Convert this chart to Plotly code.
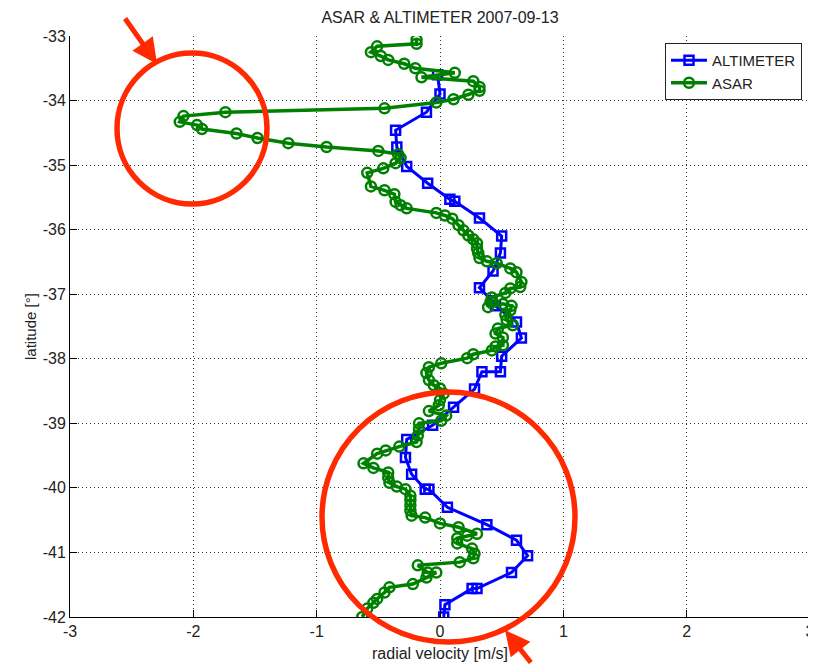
import plotly.graph_objects as go

# ---------------- data ----------------
alt_vel = [-0.02, 0.00, -0.11, -0.36, -0.35, -0.27, -0.10, 0.08, 0.12, 0.32,
           0.50, 0.49, 0.43, 0.32, 0.42, 0.45, 0.62, 0.66, 0.50, 0.49,
           0.34, 0.28, 0.11, -0.06, -0.27, -0.28, -0.23, -0.12, -0.09, 0.06,
           0.38, 0.62, 0.71, 0.58, 0.30, 0.26, 0.04, 0.03]
alt_lat = [-33.60, -33.90, -34.18, -34.46, -34.72, -35.02, -35.28, -35.53, -35.56, -35.82,
           -36.10, -36.36, -36.64, -36.90, -37.10, -37.18, -37.43, -37.68, -37.96, -38.20,
           -38.20, -38.47, -38.75, -39.03, -39.25, -39.53, -39.79, -40.02, -40.02, -40.30,
           -40.57, -40.81, -41.05, -41.31, -41.56, -41.56, -41.81, -42.00]

asar_vel = [-0.19, -0.19, -0.51, -0.56, -0.48, -0.42, -0.29, -0.20, 0.12, -0.15,
            0.27, 0.32, 0.32, 0.23, 0.11, -0.03, -0.45, -1.74, -2.08, -2.11,
            -1.97, -1.93, -1.65, -1.48, -1.23, -0.92, -0.50, -0.34, -0.32, -0.36,
            -0.46, -0.59, -0.56, -0.45, -0.37, -0.36, -0.32, -0.27, -0.03, 0.04,
            0.10, 0.15, 0.19, 0.23, 0.27, 0.30, 0.30, 0.31, 0.32, 0.38,
            0.46, 0.57, 0.62, 0.66, 0.65, 0.57, 0.53, 0.42, 0.41, 0.39,
            0.51, 0.58, 0.57, 0.53, 0.54, 0.59, 0.47, 0.45, 0.51, 0.51,
            0.45, 0.42, 0.27, 0.22, 0.01, -0.09, -0.11, -0.09, -0.05, 0.00,
            0.03, 0.00, -0.01, -0.09, 0.05, 0.01, -0.17, -0.17, -0.18, -0.19,
            -0.33, -0.44, -0.51, -0.62, -0.54, -0.42, -0.42, -0.41, -0.35, -0.28,
            -0.24, -0.24, -0.24, -0.24, -0.23, -0.12, 0.00, 0.15, 0.30, 0.22,
            0.14, 0.14, 0.26, 0.28, 0.27, 0.16, -0.18, -0.10, -0.03, -0.11,
            -0.22, -0.41, -0.45, -0.51, -0.54, -0.59, -0.63]
asar_lat = [-33.06, -33.12, -33.16, -33.25, -33.31, -33.37, -33.43, -33.50, -33.57, -33.64,
            -33.70, -33.79, -33.85, -33.91, -33.98, -34.03, -34.12, -34.18, -34.24, -34.33,
            -34.38, -34.44, -34.51, -34.58, -34.66, -34.72, -34.78, -34.83, -34.89, -34.97,
            -35.05, -35.12, -35.33, -35.39, -35.45, -35.57, -35.62, -35.67, -35.74, -35.78,
            -35.83, -35.93, -36.01, -36.09, -36.15, -36.21, -36.29, -36.36, -36.44, -36.49,
            -36.52, -36.60, -36.66, -36.81, -36.89, -36.91, -36.98, -37.05, -37.12, -37.20,
            -37.15, -37.18, -37.25, -37.32, -37.40, -37.48, -37.53, -37.61, -37.67, -37.79,
            -37.81, -37.87, -37.93, -37.99, -38.07, -38.13, -38.22, -38.33, -38.41, -38.46,
            -38.54, -38.64, -38.72, -38.81, -38.88, -38.96, -39.00, -39.09, -39.19, -39.29,
            -39.36, -39.42, -39.47, -39.62, -39.69, -39.76, -39.84, -39.92, -39.98, -40.02,
            -40.12, -40.19, -40.27, -40.35, -40.43, -40.46, -40.55, -40.61, -40.71, -40.74,
            -40.78, -40.86, -40.94, -41.02, -41.09, -41.15, -41.20, -41.31, -41.31, -41.39,
            -41.49, -41.54, -41.62, -41.72, -41.78, -41.87, -42.00]

x_ticks = [-3, -2, -1, 0, 1, 2, 3]
y_ticks = [-33, -34, -35, -36, -37, -38, -39, -40, -41, -42]

title_text = "ASAR & ALTIMETER 2007-09-13"
x_title = "radial velocity [m/s]"
y_title = "latitude [°]"

# ---------------- figure ----------------
# The page body has an 8px margin, so the figure is sized to fit the window.
OFF = 8
W, H = 816 - OFF, 664 - OFF
L, T = 70 - OFF, 36 - OFF
R = W - (810 - OFF)
B = H - (617 - OFF)
PW, PH = W - L - R, H - T - B

def px(xp):  # window pixel -> paper x
    return (xp - OFF - L) / PW

def py(yp):  # window pixel -> paper y
    return 1 - (yp - OFF - T) / PH

FONT = "Liberation Sans, Arial, sans-serif"
TXT = "#222222"
RED = "#ff2a00"

fig = go.Figure()
fig.add_trace(go.Scatter(
    x=alt_vel, y=alt_lat, name="ALTIMETER", mode="lines+markers",
    line=dict(color="#0000ff", width=3),
    marker=dict(symbol="square-open", size=9, color="#0000ff", line=dict(width=2.5)),
))
fig.add_trace(go.Scatter(
    x=asar_vel, y=asar_lat, name="ASAR", mode="lines+markers",
    line=dict(color="#008000", width=3.5),
    marker=dict(symbol="circle-open", size=10, color="#008000", line=dict(width=2.5)),
))

axis_common = dict(
    showgrid=True, gridcolor="#333333", griddash="1px,3px", gridwidth=1,
    zeroline=False, ticks="inside", ticklen=7, tickcolor="#000000",
    tickfont=dict(family=FONT, size=16, color=TXT),
    showline=True, linecolor="#000000", linewidth=1, mirror=False,
    automargin=False,
)

fig.update_layout(
    width=W, height=H,
    margin=dict(l=L, r=R, t=T, b=B, pad=0, autoexpand=False),
    paper_bgcolor="white", plot_bgcolor="white",
    font=dict(family=FONT, size=16, color=TXT),
    title=dict(text=title_text, x=0.5, xref="paper", xanchor="center",
               y=1 - (17 - OFF) / H, yref="container", yanchor="middle",
               font=dict(family=FONT, size=16, color=TXT)),
    xaxis=dict(range=[-3, 3], tickvals=x_ticks, ticktext=[str(v) for v in x_ticks],
               **axis_common),
    yaxis=dict(range=[-42, -33], tickvals=y_ticks, ticktext=[str(v) for v in y_ticks],
               **axis_common),
    legend=dict(x=px(802), y=py(43), xanchor="right", yanchor="top",
                bgcolor="white", bordercolor=TXT, borderwidth=1,
                font=dict(family=FONT, size=15, color=TXT),
                tracegroupgap=0, itemwidth=36),
    showlegend=True,
)

# axis titles
fig.add_annotation(text=x_title, xref="paper", yref="paper", x=0.5, y=py(653),
                   xanchor="center", yanchor="middle", showarrow=False,
                   font=dict(family=FONT, size=16, color=TXT))
fig.add_annotation(text=y_title, xref="paper", yref="paper", x=px(30), y=py(327),
                   xanchor="center", yanchor="middle", showarrow=False, textangle=-90,
                   font=dict(family=FONT, size=15, color=TXT))

# red annotation circles (image-space decorations)
shapes = [
    dict(type="circle", xref="paper", yref="paper",
         x0=px(117), x1=px(267), y0=py(204), y1=py(53),
         line=dict(color=RED, width=5.5)),
    dict(type="circle", xref="paper", yref="paper",
         x0=px(322), x1=px(575), y0=py(642), y1=py(392),
         line=dict(color=RED, width=5.5)),
    dict(type="circle", xref="paper", yref="paper",
         x0=px(30), x1=px(50), y0=py(3), y1=py(-17),
         line=dict(color=RED, width=1), fillcolor=RED),
]
fig.update_layout(shapes=shapes)

fig.add_annotation(x=px(157), y=py(64), xref="paper", yref="paper",
                   ax=-33, ay=-47, axref="pixel", ayref="pixel",
                   text="", showarrow=True, arrowhead=2, arrowsize=1.0,
                   arrowwidth=5, arrowcolor=RED)
fig.add_annotation(x=px(505), y=py(630), xref="paper", yref="paper",
                   ax=27, ay=42, axref="pixel", ayref="pixel",
                   text="", showarrow=True, arrowhead=2, arrowsize=1.0,
                   arrowwidth=5, arrowcolor=RED)

fig.write_html("out.html")
